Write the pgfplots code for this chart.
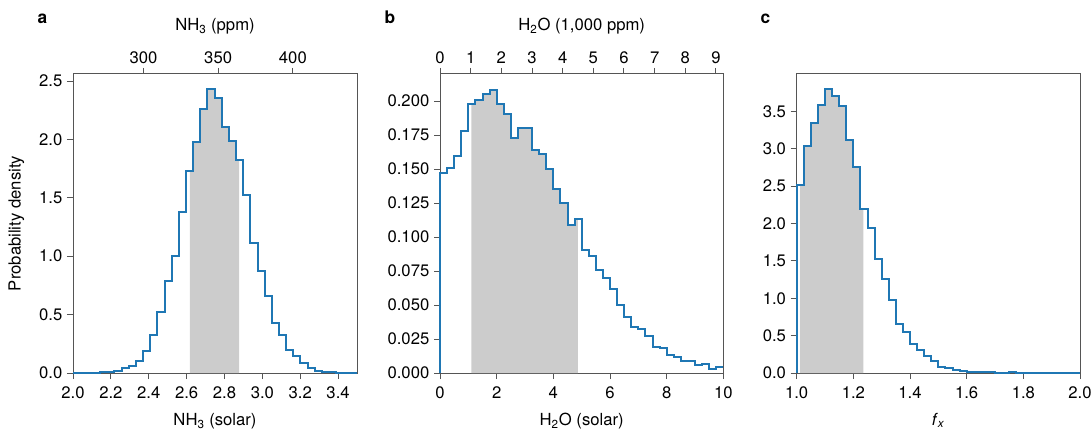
\documentclass[border=0pt]{standalone}
\usepackage{fontspec}
\setmainfont{TeX Gyre Heros}
\usepackage{pgfplots}
\pgfplotsset{compat=1.18}
\definecolor{C0}{HTML}{1F77B4}
\definecolor{band}{HTML}{CCCCCC}
\definecolor{spine}{HTML}{555555}
\newcommand{\lbl}{\fontsize{12.5}{14}\selectfont}

\pgfplotsset{
  panel/.style={
    scale only axis, height=224.25pt, clip=false,
    axis line style={spine, line width=0.75pt},
    tick style={spine, line width=0.75pt},
    tick align=outside, major tick length=4.5pt,
    tick label style={font=\lbl}, label style={font=\lbl},
    /pgf/number format/assume math mode=true,
    ymin=0,
  },
  main/.style={panel, xtick pos=left, ytick pos=left,
    xticklabel style={yshift=-2pt},
    xlabel style={at={(axis description cs:0.5,-0.175)}, anchor=base}},
  top/.style={panel, axis x line*=top, axis y line=none, ymax=1,
    xlabel style={at={(axis description cs:0.5,1.1455)}, anchor=base}},
  hist/.style={const plot, color=C0, line width=1.5pt, line join=miter},
  shade/.style={const plot, fill=band, draw=none},
}

\begin{document}
\begin{tikzpicture}
\useasboundingbox (0,0) rectangle (819pt,324pt);

% ---- a: NH3 ----
\begin{axis}[main, width=213pt, at={(54.75pt,44.25pt)}, anchor=south west,
  xmin=2.0, xmax=3.5, ymax=2.56,
  xtick={2.0,2.2,2.4,2.6,2.8,3.0,3.2,3.4},
  ytick={0,0.5,1.0,1.5,2.0,2.5},
  xticklabel style={/pgf/number format/.cd, fixed, fixed zerofill, precision=1},
  yticklabel style={/pgf/number format/.cd, fixed, fixed zerofill, precision=1},
  xlabel={NH\textsubscript{3} (solar)},
  ylabel={Probability density},
  ylabel style={at={(axis description cs:-0.199,0.5)}, anchor=center}]
  \addplot[shade] coordinates {
    (2.617,1.727) (2.635,1.975) (2.672,2.26) (2.710,2.43) (2.748,2.354)
    (2.786,2.103) (2.824,1.983) (2.861,1.821) (2.877,1.821)
  } \closedcycle;
  \addplot[hist] coordinates {
    (2.0,0) (2.106,0.002) (2.144,0.006) (2.181,0.009) (2.219,0.02) (2.257,0.043)
    (2.295,0.057) (2.333,0.1) (2.370,0.186) (2.408,0.3225) (2.446,0.519)
    (2.484,0.785) (2.521,0.999) (2.559,1.378) (2.597,1.727) (2.635,1.975)
    (2.672,2.26) (2.710,2.43) (2.748,2.354) (2.786,2.103) (2.824,1.983)
    (2.861,1.821) (2.899,1.521) (2.937,1.113) (2.975,0.876) (3.012,0.662)
    (3.050,0.428) (3.088,0.3225) (3.126,0.2) (3.163,0.143) (3.201,0.0856)
    (3.239,0.043) (3.277,0.02) (3.315,0.011) (3.352,0.006) (3.390,0.003)
    (3.428,0.001) (3.466,0) (3.5,0)
  };
\end{axis}
\begin{axis}[top, width=213pt, at={(54.75pt,44.25pt)}, anchor=south west,
  xmin=252.9, xmax=442.9, xtick={300,350,400},
  xlabel={NH\textsubscript{3} (ppm)}]
\end{axis}

% ---- b: H2O ----
\begin{axis}[main, width=212.5pt, at={(330pt,44.25pt)}, anchor=south west,
  xmin=0, xmax=10, ymax=0.22,
  xtick={0,2,4,6,8,10},
  ytick={0,0.025,0.05,0.075,0.1,0.125,0.15,0.175,0.2},
  yticklabel style={/pgf/number format/.cd, fixed, fixed zerofill, precision=3},
  xlabel={H\textsubscript{2}O (solar)}]
  \addplot[shade] coordinates {
    (1.106,0.198) (1.25,0.2012) (1.5,0.2054) (1.75,0.208) (2.0,0.198)
    (2.25,0.1907) (2.5,0.1732) (2.75,0.1805) (3.0,0.18) (3.25,0.1639)
    (3.5,0.161) (3.75,0.15) (4.0,0.1354) (4.25,0.1249) (4.5,0.109)
    (4.75,0.113) (4.87,0.113)
  } \closedcycle;
  \addplot[hist] coordinates {
    (0,0) (0,0.1468) (0.25,0.1512) (0.5,0.1593) (0.75,0.178) (1.0,0.198)
    (1.25,0.2012) (1.5,0.2054) (1.75,0.208) (2.0,0.198) (2.25,0.1907)
    (2.5,0.1732) (2.75,0.1805) (3.0,0.18) (3.25,0.1639) (3.5,0.161)
    (3.75,0.15) (4.0,0.1354) (4.25,0.1249) (4.5,0.109) (4.75,0.113)
    (5.0,0.0907) (5.25,0.0859) (5.5,0.0761) (5.75,0.07) (6.0,0.0617)
    (6.25,0.05) (6.5,0.0415) (6.75,0.0337) (7.0,0.0322) (7.25,0.0273)
    (7.5,0.019) (7.75,0.0183) (8.0,0.0134) (8.25,0.0117) (8.5,0.0085)
    (8.75,0.009) (9.0,0.0061) (9.25,0.0068) (9.5,0.0029) (9.75,0.0044)
    (10,0.0044)
  };
\end{axis}
\begin{axis}[top, width=212.5pt, at={(330pt,44.25pt)}, anchor=south west,
  xmin=0, xmax=9.24, xtick={0,1,...,9},
  xlabel={H\textsubscript{2}O (1,000 ppm)}]
\end{axis}

% ---- c: f_x ----
\begin{axis}[main, width=212.5pt, at={(597.5pt,44.25pt)}, anchor=south west,
  xmin=1.0, xmax=2.0, ymax=4.0,
  xtick={1.0,1.2,1.4,1.6,1.8,2.0},
  ytick={0,0.5,1.0,1.5,2.0,2.5,3.0,3.5},
  xticklabel style={/pgf/number format/.cd, fixed, fixed zerofill, precision=1},
  yticklabel style={/pgf/number format/.cd, fixed, fixed zerofill, precision=1},
  xlabel={\textit{f}\textsubscript{\textit{x}}}]
  \addplot[shade] coordinates {
    (1.012,2.515) (1.025,3.041) (1.05,3.348) (1.075,3.584) (1.1,3.798)
    (1.125,3.704) (1.15,3.575) (1.175,3.117) (1.2,2.756) (1.225,2.195)
    (1.235,2.195)
  } \closedcycle;
  \addplot[hist] coordinates {
    (1.0,0) (1.0,2.515) (1.025,3.041) (1.05,3.348) (1.075,3.584) (1.1,3.798)
    (1.125,3.704) (1.15,3.575) (1.175,3.117) (1.2,2.756) (1.225,2.195)
    (1.25,1.946) (1.275,1.523) (1.3,1.256) (1.325,0.98) (1.35,0.654)
    (1.375,0.543) (1.4,0.392) (1.425,0.303) (1.45,0.223) (1.475,0.156)
    (1.5,0.08) (1.525,0.067) (1.55,0.045) (1.575,0.022) (1.6,0.018)
    (1.625,0.013) (1.65,0.009) (1.675,0.008) (1.7,0.006) (1.725,0.005)
    (1.75,0.007) (1.775,0.003) (1.8,0.002) (1.825,0.002) (1.85,0.001)
    (1.875,0.001) (1.9,0.001) (1.925,0.0005) (1.95,0) (2.0,0)
  };
\end{axis}

\node[anchor=base, font=\fontsize{13}{15}\selectfont\bfseries] at (31.9pt,306.4pt) {a};
\node[anchor=base, font=\fontsize{13}{15}\selectfont\bfseries] at (292.5pt,306.4pt) {b};
\node[anchor=base, font=\fontsize{13}{15}\selectfont\bfseries] at (574pt,306.4pt) {c};
\end{tikzpicture}
\end{document}
